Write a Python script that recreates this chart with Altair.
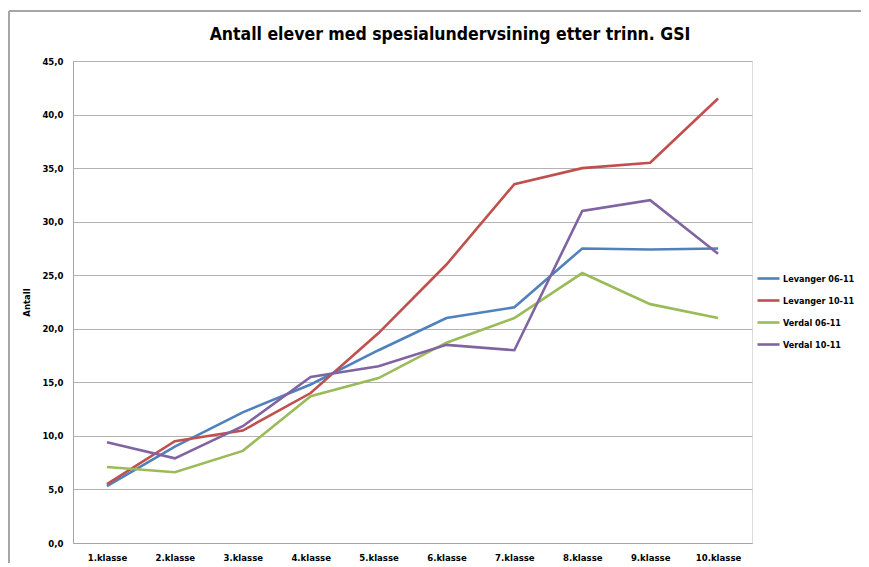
import altair as alt
import pandas as pd

categories = ["1.klasse", "2.klasse", "3.klasse", "4.klasse", "5.klasse",
              "6.klasse", "7.klasse", "8.klasse", "9.klasse", "10.klasse"]
series_names = ["Levanger 06-11", "Levanger 10-11", "Verdal 06-11", "Verdal 10-11"]
levanger_06 = [5.3, 9.0, 12.2, 14.8, 18.0, 21.0, 22.0, 27.5, 27.4, 27.5]
levanger_10 = [5.5, 9.5, 10.5, 14.0, 19.6, 26.0, 33.5, 35.0, 35.5, 41.5]
verdal_06 = [7.1, 6.6, 8.6, 13.7, 15.4, 18.7, 21.0, 25.2, 22.3, 21.0]
verdal_10 = [9.4, 7.9, 10.9, 15.5, 16.5, 18.5, 18.0, 31.0, 32.0, 27.0]
colors = ["#4F81BD", "#C0504D", "#9BBB59", "#8064A2"]
y_ticks = [0, 5, 10, 15, 20, 25, 30, 35, 40, 45]
title_text = "Antall elever med spesialundervsining etter trinn. GSI"

rows = []
for name, vals in zip(series_names, [levanger_06, levanger_10, verdal_06, verdal_10]):
    for c, v in zip(categories, vals):
        rows.append({"trinn": c, "serie": name, "antall": v})
df = pd.DataFrame(rows)

FONT = "Liberation Sans Narrow, DejaVu Sans Condensed, Liberation Sans, sans-serif"

lines = alt.Chart(df).mark_line(strokeWidth=2.6).encode(
    x=alt.X("trinn:N", sort=categories,
            scale=alt.Scale(type="point", padding=0.5),
            axis=alt.Axis(title=None, labelAngle=0, ticks=False, grid=False,
                          domainColor="#A6A6A6", labelPadding=9,
                          labelFont=FONT, labelFontWeight="bold", labelFontSize=9.5,
                          labelColor="#000000")),
    y=alt.Y("antall:Q", scale=alt.Scale(domain=[0, 45], nice=False),
            axis=alt.Axis(title="Antall", values=y_ticks, ticks=False,
                          labelExpr="replace(format(datum.value, '.1f'), '.', ',')",
                          gridColor="#B3B3B3", domainColor="#A6A6A6",
                          labelPadding=10, labelFont=FONT, labelFontWeight="bold",
                          labelFontSize=9.5, labelColor="#000000",
                          titleFont=FONT, titleFontWeight="bold", titleFontSize=9.5,
                          titleColor="#000000", titlePadding=10)),
    color=alt.Color("serie:N", sort=series_names,
                    scale=alt.Scale(domain=series_names, range=colors),
                    legend=alt.Legend(title=None, orient="none", legendX=683, legendY=205,
                                      symbolType="stroke", symbolSize=484,
                                      symbolStrokeWidth=2.6, rowPadding=4,
                                      labelOffset=2, labelFont=FONT,
                                      labelFontWeight="bold", labelFontSize=9,
                                      labelColor="#000000", labelLimit=0)),
)

title = alt.Chart(pd.DataFrame({"t": [title_text]})).mark_text(
    font=FONT, fontWeight="bold", fontSize=17.5, color="#000000",
    align="center", baseline="middle").encode(
    text="t:N", x=alt.value(377), y=alt.value(-26))

frame_left = alt.Chart(df).mark_rule(color="#A6A6A6", strokeWidth=1).encode(
    x=alt.value(-64), y=alt.value(-50), y2=alt.value(520))
frame_top = alt.Chart(df).mark_rule(color="#A6A6A6", strokeWidth=1).encode(
    x=alt.value(-64), x2=alt.value(800), y=alt.value(-50))

chart = alt.layer(frame_left, frame_top, lines, title).properties(
    width=679, height=482,
    autosize=alt.AutoSizeParams(type="none"),
    padding={"left": 65, "top": 53, "right": 109, "bottom": 20},
).configure_view(stroke=None).configure(background="#FFFFFF")

chart.save("out.html", embed_options={"renderer": "svg", "actions": False})
